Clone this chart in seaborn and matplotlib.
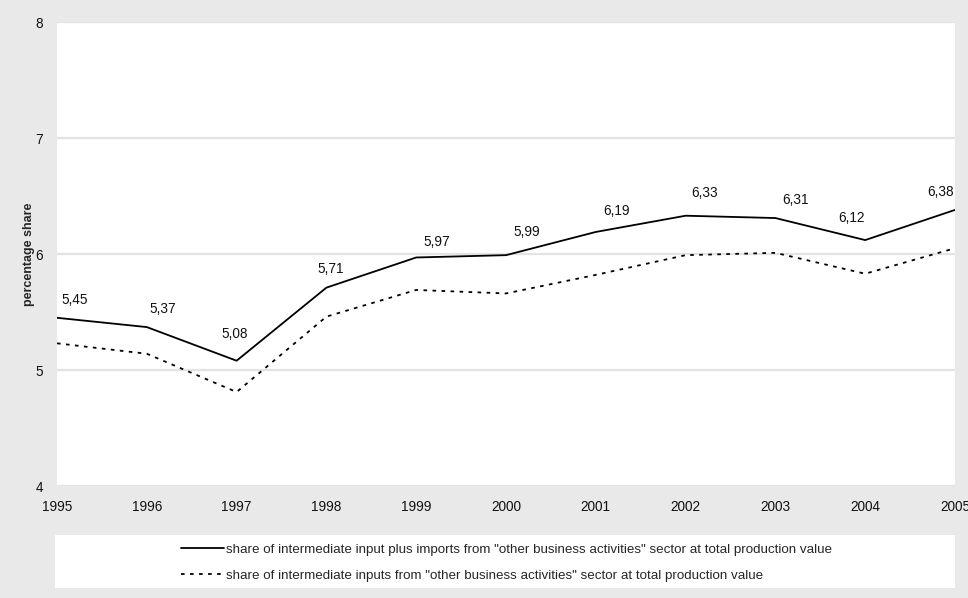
import matplotlib
matplotlib.use("Agg")
import matplotlib.pyplot as plt
from matplotlib.patches import Rectangle
import seaborn as sns
import pandas as pd

# Data
years = [1995, 1996, 1997, 1998, 1999, 2000, 2001, 2002, 2003, 2004, 2005]
share_with_imports = [5.45, 5.37, 5.08, 5.71, 5.97, 5.99, 6.19, 6.33, 6.31, 6.12, 6.38]
share_domestic = [5.23, 5.14, 4.81, 5.46, 5.69, 5.66, 5.82, 5.99, 6.01, 5.83, 6.05]
label_with_imports = ('share of intermediate input plus imports from "other business activities" '
                      'sector at total production value')
label_domestic = ('share of intermediate inputs from "other business activities" '
                  'sector at total production value')
y_ticks = [4, 5, 6, 7, 8]

# Value label nudges in pixels (dx, dy) so the labels sit clear of the line
label_offsets = [(18, 18), (16, 18), (-2, 27), (4, 19), (21, 15), (21, 23),
                 (21, 21), (19, 23), (20, 18), (-14, 22), (-14, 18)]

df = pd.DataFrame({"year": years,
                   "with_imports": share_with_imports,
                   "domestic": share_domestic})

sns.set_theme(style="white")
plt.rcParams["font.family"] = ["Liberation Sans", "DejaVu Sans"]

bg = "#e9e9e9"
W, H = 968, 598
fig = plt.figure(figsize=(W / 100, H / 100), dpi=100, facecolor=bg)
ax = fig.add_axes([57 / W, 1 - 486 / H, (955 - 57) / W, (486 - 22) / H])
ax.set_facecolor("white")

sns.lineplot(data=df, x="year", y="with_imports", ax=ax, color="black",
             linewidth=1.3, label=label_with_imports, legend=False)
sns.lineplot(data=df, x="year", y="domestic", ax=ax, color="black",
             linewidth=1.3, linestyle=(0, (2, 3)), label=label_domestic, legend=False)

for x, v, (dx, dy) in zip(years, share_with_imports, label_offsets):
    ax.annotate(f"{v:.2f}".replace(".", ","), (x, v), xytext=(dx, dy),
                textcoords="offset pixels", ha="center", va="center",
                fontsize=9.8, color="#111111")

ax.set_xlim(years[0], years[-1])
ax.set_ylim(y_ticks[0], y_ticks[-1])
ax.set_xticks(years)
ax.set_xticklabels([str(y) for y in years], fontsize=9.8, color="#111111")
ax.set_yticks(y_ticks)
ax.set_yticklabels([str(t) for t in y_ticks], fontsize=9.8, color="#111111")
ax.tick_params(axis="x", length=4, width=1.5, color="white", pad=6, direction="out")
ax.tick_params(axis="y", length=0, pad=10)
ax.grid(axis="y", color="#e3e3e3", linewidth=1.6)
ax.grid(axis="x", visible=False)
for s in ax.spines.values():
    s.set_visible(False)
ax.set_xlabel("")
ax.set_ylabel("percentage share", fontsize=9, fontweight="bold", labelpad=0)

# Legend panel
fig.patches.append(Rectangle((55 / W, 1 - 588 / H), (955 - 55) / W, (588 - 535) / H,
                             transform=fig.transFigure, facecolor="white",
                             edgecolor="none", zorder=0))
handles, labels = ax.get_legend_handles_labels()
leg = fig.legend(handles, labels, loc="upper left",
                 bbox_to_anchor=(176 / W, 1 - 538 / H), frameon=False,
                 fontsize=9.6, handlelength=3.2, handletextpad=0.15,
                 labelspacing=1.05, borderaxespad=0)

fig.savefig("out.png", dpi=100, facecolor=bg)
